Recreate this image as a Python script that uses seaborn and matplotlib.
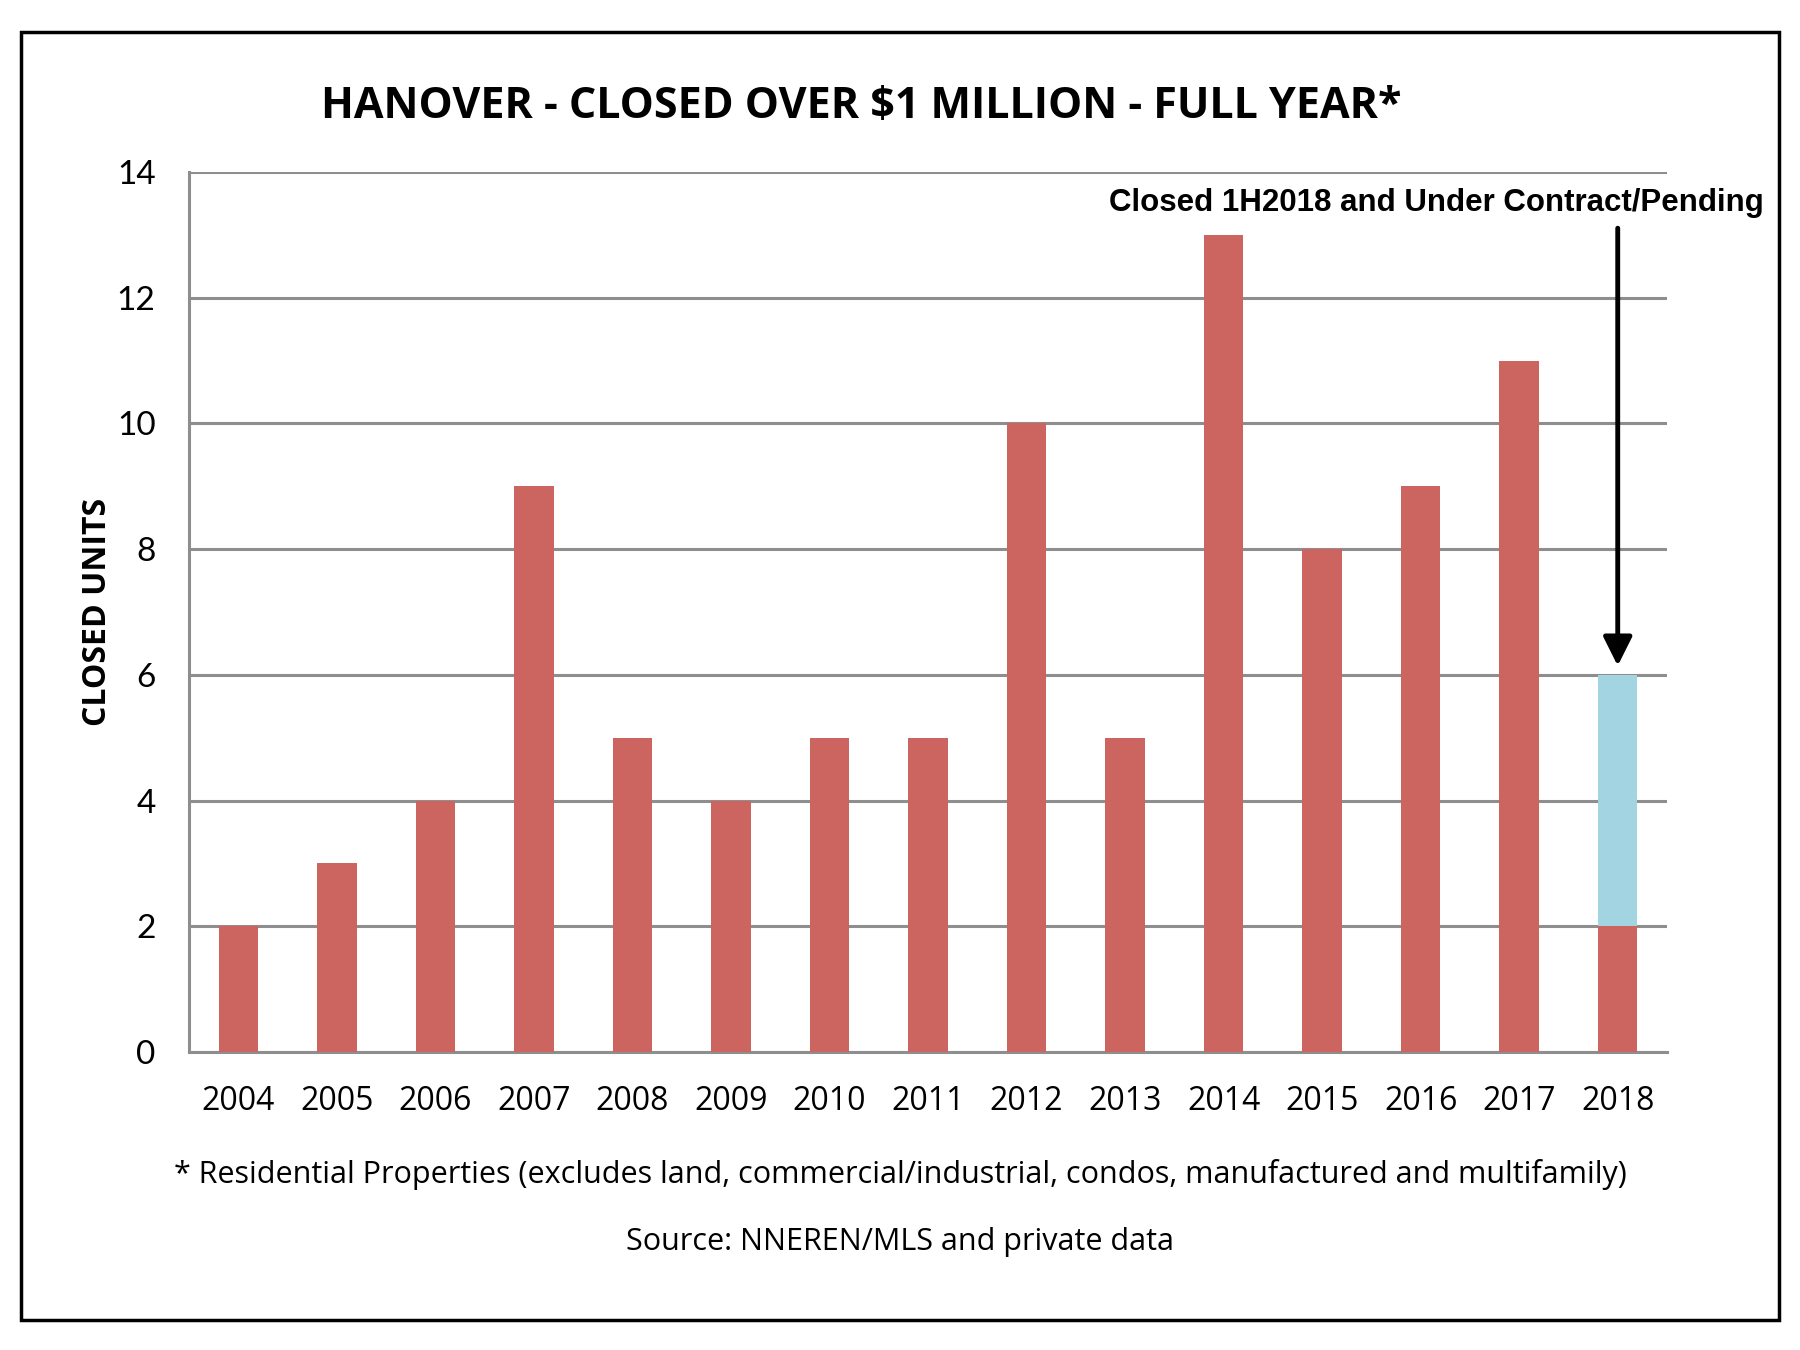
#!/usr/bin/env python3

import matplotlib
matplotlib.use('Agg')
import matplotlib.pyplot as plt
import seaborn as sns
import pandas as pd
from matplotlib.patches import Rectangle

# Values
years = ['2004', '2005', '2006', '2007', '2008', '2009', '2010', '2011',
         '2012', '2013', '2014', '2015', '2016', '2017', '2018']
closed = [2, 3, 4, 9, 5, 4, 5, 5, 10, 5, 13, 8, 9, 11, 2]
pending = [0, 0, 0, 0, 0, 0, 0, 0, 0, 0, 0, 0, 0, 0, 4]
y_ticks = [0, 2, 4, 6, 8, 10, 12, 14]

RED = '#CC6560'
BLUE = '#A2D5E1'
GRID = '#8E8E8E'


def plot_hanover():
    df = pd.DataFrame({'year': years, 'closed': closed, 'pending': pending})
    df['total'] = df['closed'] + df['pending']

    sns.set_style('white')
    plt.rcParams['font.family'] = ['Open Sans', 'DejaVu Sans']
    plt.rcParams['text.color'] = 'black'
    plt.rcParams['axes.labelcolor'] = 'black'
    plt.rcParams['xtick.labelcolor'] = 'black'
    plt.rcParams['ytick.labelcolor'] = 'black'

    fig = plt.figure(figsize=(18, 13.5), dpi=100)
    ax = fig.add_axes([189 / 1800, 1 - 1052 / 1350, (1667 - 189) / 1800, (1052 - 172) / 1350])

    # total (blue) behind, closed (red) on top
    sns.barplot(data=df, x='year', y='total', color=BLUE, width=0.4,
                saturation=1, linewidth=0, ax=ax, zorder=3)
    sns.barplot(data=df, x='year', y='closed', color=RED, width=0.4,
                saturation=1, linewidth=0, ax=ax, zorder=4)

    ax.set_ylim(0, 14)
    ax.set_xlim(-0.5, len(years) - 0.5)
    ax.set_yticks(y_ticks)
    ax.yaxis.grid(True, color=GRID, linewidth=2.2, zorder=0)
    ax.set_axisbelow(True)

    for side in ['top', 'right']:
        ax.spines[side].set_visible(False)
    for side in ['left', 'bottom']:
        ax.spines[side].set_color(GRID)
        ax.spines[side].set_linewidth(2.2)

    # tick marks between categories on the x axis
    ax.set_xticks([i - 0.5 for i in range(len(years) + 1)], minor=True)
    ax.tick_params(axis='x', which='minor', length=14, width=1.6, color=GRID, direction='out')
    ax.tick_params(axis='x', which='major', length=0, pad=24, labelsize=23)
    ax.tick_params(axis='y', which='major', length=10, width=1.6, color=GRID,
                   direction='out', pad=14, labelsize=24)
    for lbl in ax.get_yticklabels():
        lbl.set_family(['Lato', 'DejaVu Sans'])

    ax.set_xlabel('')
    ax.set_ylabel('CLOSED UNITS', fontsize=23, fontweight='bold', labelpad=2)

    fig.text(861 / 1800, 1 - 107 / 1350, 'HANOVER - CLOSED OVER $1 MILLION - FULL YEAR*',
             ha='center', va='center', fontsize=31, fontweight='bold')

    # annotation for the 2018 bar
    ax.annotate('', xy=(14, 6.1), xytext=(14, 13.15),
                arrowprops=dict(arrowstyle='-|>', color='black', lw=3.5,
                                mutation_scale=44))
    fig.text(1436 / 1800, 1 - 203 / 1350, 'Closed 1H2018 and Under Contract/Pending',
             ha='center', va='center', fontsize=22.5, fontweight='bold',
             family=['Liberation Sans', 'DejaVu Sans'])

    fig.text(900 / 1800, 1 - 1174 / 1350,
             '* Residential Properties (excludes land, commercial/industrial, condos, manufactured and multifamily)',
             ha='center', va='center', fontsize=22)
    fig.text(900 / 1800, 1 - 1242 / 1350, 'Source: NNEREN/MLS and private data',
             ha='center', va='center', fontsize=22)

    # outer frame
    fig.patches.append(Rectangle((21 / 1800, 1 - 1320 / 1350), (1779 - 21) / 1800,
                                 (1320 - 32) / 1350, transform=fig.transFigure,
                                 fill=False, edgecolor='black', linewidth=2.5))

    fig.savefig('out.png', dpi=100)
    plt.close(fig)


if __name__ == "__main__":
    plot_hanover()
